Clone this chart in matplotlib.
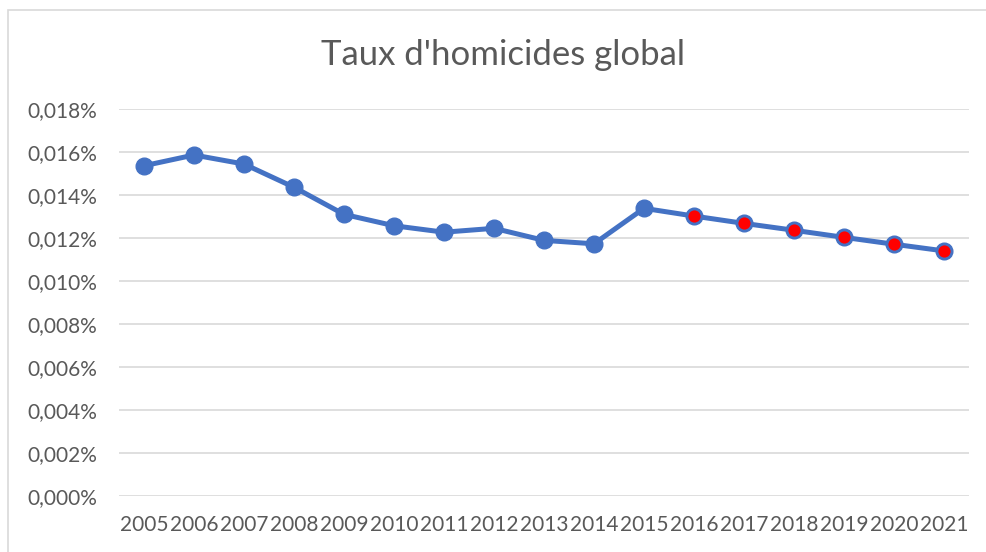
import matplotlib.pyplot as plt
import matplotlib.patches as patches
from matplotlib.ticker import FuncFormatter, MultipleLocator

years = [str(y) for y in range(2005, 2022)]
# taux en pourcentage
taux = [0.01536, 0.01586, 0.01544, 0.01436, 0.0131, 0.01257, 0.01227, 0.01245,
        0.01189, 0.01173, 0.01338, 0.01302, 0.01268, 0.01236, 0.01203, 0.01171, 0.0114]
first_red = years.index("2016")

blue = "#4472C4"
grey = "#595959"
plt.rcParams['font.family'] = ['Lato', 'DejaVu Sans']

fig = plt.figure(figsize=(9.87, 5.52), dpi=100)
# cadre du graphique (haut et gauche seulement visibles)
fig.patches.append(patches.Rectangle((8 / 987, -0.1), 1.2, 1 - 10 / 552 + 0.1,
                                     transform=fig.transFigure, fill=False,
                                     edgecolor="#d9d9d9", linewidth=1.2))

ax = fig.add_axes([119 / 987, 1 - 496 / 552, 850 / 987, 387 / 552])
x = list(range(len(years)))
ax.plot(x, taux, color=blue, linewidth=3.6, marker="o", markersize=12,
        markerfacecolor=blue, markeredgecolor=blue, zorder=3)
ax.plot(x[first_red:], taux[first_red:], linestyle="none", marker="o", markersize=10,
        markerfacecolor="red", markeredgecolor=blue, markeredgewidth=1.2, zorder=4)

ax.set_ylim(0, 0.018)
ax.set_xlim(-0.5, len(years) - 0.5)
ax.yaxis.set_major_locator(MultipleLocator(0.002))
ax.yaxis.set_major_formatter(FuncFormatter(lambda v, p: f"{v:.3f}%".replace(".", ",")))
ax.set_xticks(x)
ax.set_xticklabels(years)
ax.grid(axis="y", color="#d9d9d9", linewidth=1.2)
ax.set_axisbelow(True)
for s in ax.spines.values():
    s.set_visible(False)
ax.tick_params(length=0, labelsize=15, labelcolor=grey)
ax.tick_params(axis="y", pad=16)
ax.tick_params(axis="x", pad=14)

fig.text(503 / 987, 1 - 55 / 552, "Taux d'homicides global", ha="center", va="center",
         fontsize=25, color=grey)

fig.savefig("out.png", dpi=100)
